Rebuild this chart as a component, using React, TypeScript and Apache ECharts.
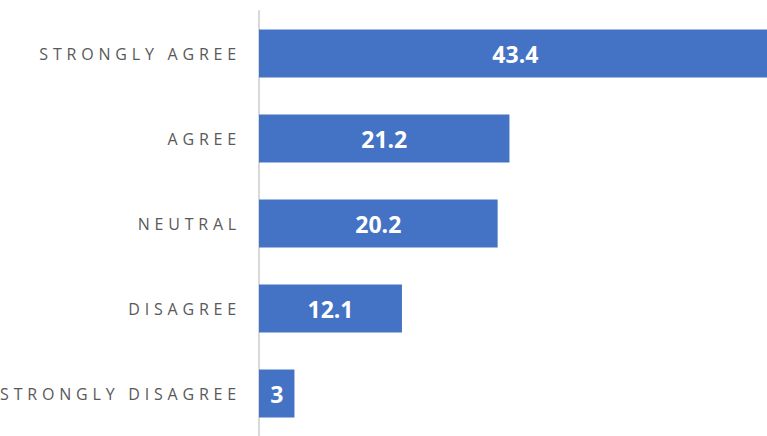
import React, { useEffect, useRef } from "react";
import * as echarts from "echarts";

const categories = ["STRONGLY AGREE", "AGREE", "NEUTRAL", "DISAGREE", "STRONGLY DISAGREE"];
const values = [43.4, 21.2, 20.2, 12.1, 3];

export default function App() {
  const ref = useRef<HTMLDivElement>(null);
  useEffect(() => {
    if (!ref.current) return;
    const chart = echarts.init(ref.current, null, { renderer: "svg" });
    chart.setOption({
      animation: false,
      backgroundColor: "#ffffff",
      grid: { left: 259, right: -1, top: 11, bottom: -5, containLabel: false },
      xAxis: {
        type: "value",
        min: 0,
        max: 43,
        show: false,
      },
      yAxis: {
        type: "category",
        data: categories,
        inverse: true,
        axisLine: { show: true, lineStyle: { color: "#d9d9d9", width: 2 } },
        axisTick: { show: false },
        splitLine: { show: false },
        axisLabel: {
          margin: 18,
          color: "#595959",
          fontSize: 16,
          fontFamily: "Open Sans",
        },
      },
      series: [
        {
          type: "bar",
          data: values,
          barWidth: 48,
          clip: false,
          itemStyle: { color: "#4472c4" },
          label: {
            show: true,
            position: "inside",
            color: "#ffffff",
            fontSize: 23,
            fontWeight: "bold",
            fontFamily: "Open Sans",
          },
        },
      ],
    });
    const applySpacing = () => {
      if (!ref.current) return;
      ref.current.querySelectorAll("text").forEach((t) => {
        if (categories.includes((t.textContent || "").trim())) {
          (t as SVGTextElement).setAttribute("letter-spacing", "4.8px");
        }
      });
    };
    applySpacing();
    chart.on("rendered", applySpacing);
    chart.on("finished", applySpacing);
    const t1 = setTimeout(applySpacing, 0);
    const t2 = setTimeout(applySpacing, 100);
    return () => {
      clearTimeout(t1);
      clearTimeout(t2);
      chart.dispose();
    };
  }, []);
  return (
    <div
      ref={ref}
      style={{ position: "absolute", left: 0, top: 0, width: 767, height: 436 }}
    />
  );
}
